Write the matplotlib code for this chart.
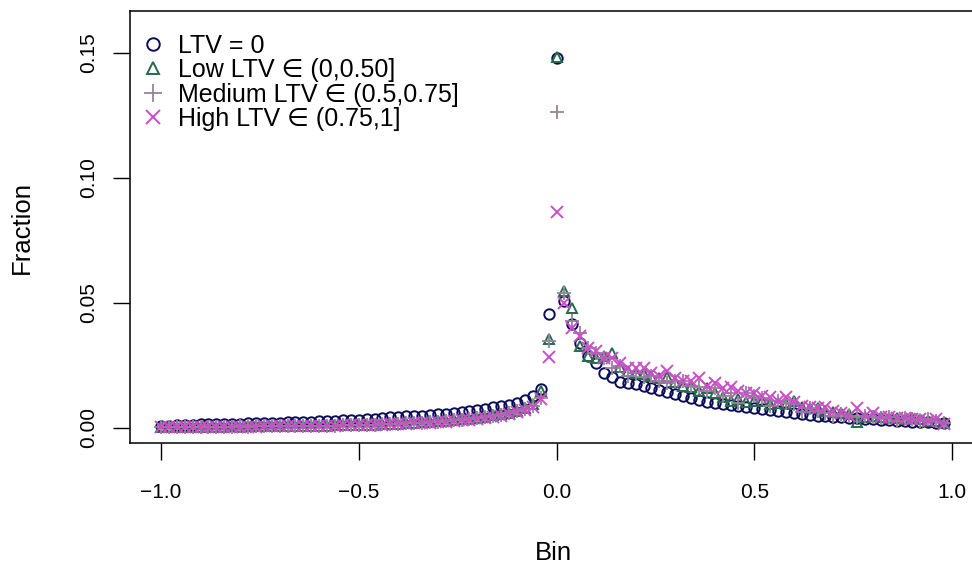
#!/usr/bin/env python3

import numpy as np
import matplotlib
matplotlib.use("Agg")
import matplotlib.pyplot as plt

plt.rcParams["font.family"] = ["Liberation Sans", "DejaVu Sans"]

# bins: -1.00, -0.98, ..., 0.98
BINS = np.round(np.linspace(-1.0, 0.98, 100), 2)

# fraction per bin (left tail, peak at 0, right tail)
ltv_zero = [
    0.0008, 0.0010, 0.0012, 0.0013, 0.0014, 0.0015, 0.0015, 0.0016, 0.0017, 0.0017, 0.0018,
    0.0019, 0.0020, 0.0020, 0.0021, 0.0022, 0.0023, 0.0024, 0.0025, 0.0026, 0.0027,
    0.0028, 0.0030, 0.0031, 0.0032, 0.0034, 0.0036, 0.0038, 0.0040, 0.0043, 0.0045,
    0.0047, 0.0048, 0.0050, 0.0052, 0.0055, 0.0058, 0.0062, 0.0066, 0.0070, 0.0074,
    0.0078, 0.0083, 0.0088, 0.0094, 0.0102, 0.0112, 0.0128, 0.0155, 0.0456,
    0.1480,
    0.0508, 0.0415, 0.0340, 0.0290, 0.0260, 0.0220, 0.0204, 0.0186, 0.0180, 0.0175,
    0.0168, 0.0160, 0.0152, 0.0143, 0.0135, 0.0127, 0.0120,
    0.0112, 0.0106, 0.0102, 0.0098, 0.0093, 0.0088, 0.0085, 0.0081, 0.0077, 0.0073,
    0.0068, 0.0064, 0.0061, 0.0057, 0.0053, 0.0050,
    0.0048, 0.0046, 0.0044, 0.0041, 0.0039, 0.0037, 0.0035, 0.0033, 0.0031, 0.0029,
    0.0027, 0.0026, 0.0024, 0.0023, 0.0021, 0.0020,
]

ltv_low = [
    0.0004, 0.0005, 0.0005, 0.0005, 0.0006, 0.0005, 0.0006, 0.0006, 0.0006, 0.0007, 0.0006,
    0.0007, 0.0007, 0.0007, 0.0008, 0.0008, 0.0008, 0.0009, 0.0009, 0.0009, 0.0010,
    0.0010, 0.0011, 0.0011, 0.0012, 0.0013, 0.0013, 0.0014, 0.0016, 0.0017, 0.0018,
    0.0020, 0.0021, 0.0023, 0.0025, 0.0028, 0.0030, 0.0032, 0.0035, 0.0038, 0.0042,
    0.0046, 0.0051, 0.0056, 0.0062, 0.0070, 0.0080, 0.0095, 0.0150, 0.0355,
    0.1485,
    0.0550, 0.0480, 0.0330, 0.0290, 0.0280, 0.0290, 0.0300, 0.0245, 0.0230, 0.0220,
    0.0215, 0.0210, 0.0200, 0.0205, 0.0185, 0.0170, 0.0165, 0.0150, 0.0160, 0.0140,
    0.0125, 0.0110, 0.0115, 0.0105, 0.0110, 0.0110, 0.0095, 0.0100, 0.0095, 0.0110,
    0.0085, 0.0080, 0.0080, 0.0070, 0.0065, 0.0060, 0.0055, 0.0025, 0.0045, 0.0050,
    0.0045, 0.0040, 0.0040, 0.0038, 0.0040, 0.0035, 0.0030, 0.0030, 0.0020,
]

ltv_medium = [
    0.0004, 0.0004, 0.0005, 0.0005, 0.0005, 0.0006, 0.0005, 0.0006, 0.0006, 0.0006, 0.0007,
    0.0006, 0.0007, 0.0007, 0.0007, 0.0008, 0.0008, 0.0008, 0.0009, 0.0009, 0.0010,
    0.0010, 0.0010, 0.0011, 0.0012, 0.0012, 0.0013, 0.0014, 0.0015, 0.0016, 0.0017,
    0.0019, 0.0020, 0.0022, 0.0024, 0.0026, 0.0029, 0.0031, 0.0034, 0.0037, 0.0040,
    0.0044, 0.0049, 0.0054, 0.0060, 0.0068, 0.0078, 0.0090, 0.0120, 0.0350,
    0.1265,
    0.0540, 0.0430, 0.0380, 0.0320, 0.0300, 0.0280, 0.0240, 0.0250, 0.0210, 0.0220,
    0.0205, 0.0210, 0.0190, 0.0180, 0.0190, 0.0190, 0.0170, 0.0165, 0.0150, 0.0160,
    0.0130, 0.0140, 0.0100, 0.0140, 0.0130, 0.0120, 0.0090, 0.0110, 0.0100, 0.0095,
    0.0065, 0.0080, 0.0070, 0.0060, 0.0050, 0.0055, 0.0050, 0.0045, 0.0050, 0.0045,
    0.0040, 0.0045, 0.0030, 0.0040, 0.0035, 0.0030, 0.0035, 0.0030, 0.0020,
]

ltv_high = [
    0.0003, 0.0003, 0.0004, 0.0004, 0.0004, 0.0005, 0.0005, 0.0005, 0.0005, 0.0006, 0.0006,
    0.0006, 0.0006, 0.0007, 0.0007, 0.0007, 0.0008, 0.0008, 0.0008, 0.0009, 0.0009,
    0.0010, 0.0010, 0.0011, 0.0011, 0.0012, 0.0013, 0.0013, 0.0014, 0.0015, 0.0016,
    0.0017, 0.0019, 0.0020, 0.0022, 0.0024, 0.0026, 0.0029, 0.0031, 0.0034, 0.0037,
    0.0041, 0.0045, 0.0050, 0.0056, 0.0063, 0.0072, 0.0085, 0.0118, 0.0284,
    0.0865,
    0.0500, 0.0400, 0.0370, 0.0320, 0.0310, 0.0280, 0.0280, 0.0260, 0.0240, 0.0240,
    0.0240, 0.0220, 0.0210, 0.0230, 0.0200, 0.0190, 0.0190, 0.0200, 0.0170, 0.0180,
    0.0160, 0.0165, 0.0150, 0.0140, 0.0140, 0.0130, 0.0125, 0.0110, 0.0125, 0.0105,
    0.0090, 0.0085, 0.0080, 0.0085, 0.0070, 0.0060, 0.0050, 0.0080, 0.0050, 0.0060,
    0.0045, 0.0045, 0.0040, 0.0040, 0.0038, 0.0035, 0.0030, 0.0035, 0.0015,
]

LABELS = [
    "LTV = 0",
    "Low LTV \u2208 (0,0.50]",
    "Medium LTV \u2208 (0.5,0.75]",
    "High LTV \u2208 (0.75,1]",
]
COLORS = ["#0b0b5c", "#236b4c", "#958498", "#cc4ccc"]
MARKERS = ["o", "^", "+", "x"]


def marker_style(mk, col):
    kw = dict(color=col, linestyle="none", marker=mk, markeredgewidth=1.4)
    if mk in ("o", "^"):
        kw["markerfacecolor"] = "none"
        kw["markersize"] = 7.5
    elif mk == "+":
        kw["markersize"] = 10.5
        kw["markeredgewidth"] = 1.3
    else:
        kw["markersize"] = 8
    return kw


W, H = 972, 568
fig = plt.figure(figsize=(W / 100, H / 100), dpi=100)
# plot region in pixels: left 130, right 976 (clipped), top 11, bottom 443
ax = fig.add_axes([130 / W, 1 - 443 / H, (976 - 130) / W, (443 - 11) / H])

for series, col, mk in zip([ltv_zero, ltv_low, ltv_medium, ltv_high], COLORS, MARKERS):
    ax.plot(BINS, series, **marker_style(mk, col))

ax.set_xlim(-1.0783, 1.0606)
ax.set_ylim(-0.006, 0.1668)

ax.set_xticks([-1.0, -0.5, 0.0, 0.5, 1.0])
ax.set_xticklabels(["\u22121.0", "\u22120.5", "0.0", "0.5", "1.0"])
ax.set_yticks([0.0, 0.05, 0.10, 0.15])
ax.set_yticklabels(["0.00", "0.05", "0.10", "0.15"], rotation=90, va="center")
ax.tick_params(axis="both", direction="out", length=12, width=1.0, labelsize=15)
ax.tick_params(axis="x", pad=17)
ax.tick_params(axis="y", pad=11)
for sp in ax.spines.values():
    sp.set_linewidth(1.1)

# legend without frame, top left
handles = []
for lab, col, mk in zip(LABELS, COLORS, MARKERS):
    h, = ax.plot([], [], label=lab, **marker_style(mk, col))
    handles.append(h)
ax.legend(handles=handles, loc="upper left", frameon=False, fontsize=18,
          handlelength=0.8, handletextpad=0.6, labelspacing=0.02,
          markerscale=1.2, borderaxespad=0.0, bbox_to_anchor=(0.004, 0.971))

fig.text(553 / W, 1 - 553 / H, "Bin", ha="center", va="center", fontsize=18.5)
fig.text(22 / W, 1 - 227 / H, "Fraction", ha="center", va="center",
         rotation=90, fontsize=18.5)

fig.savefig("out.png", dpi=100)
